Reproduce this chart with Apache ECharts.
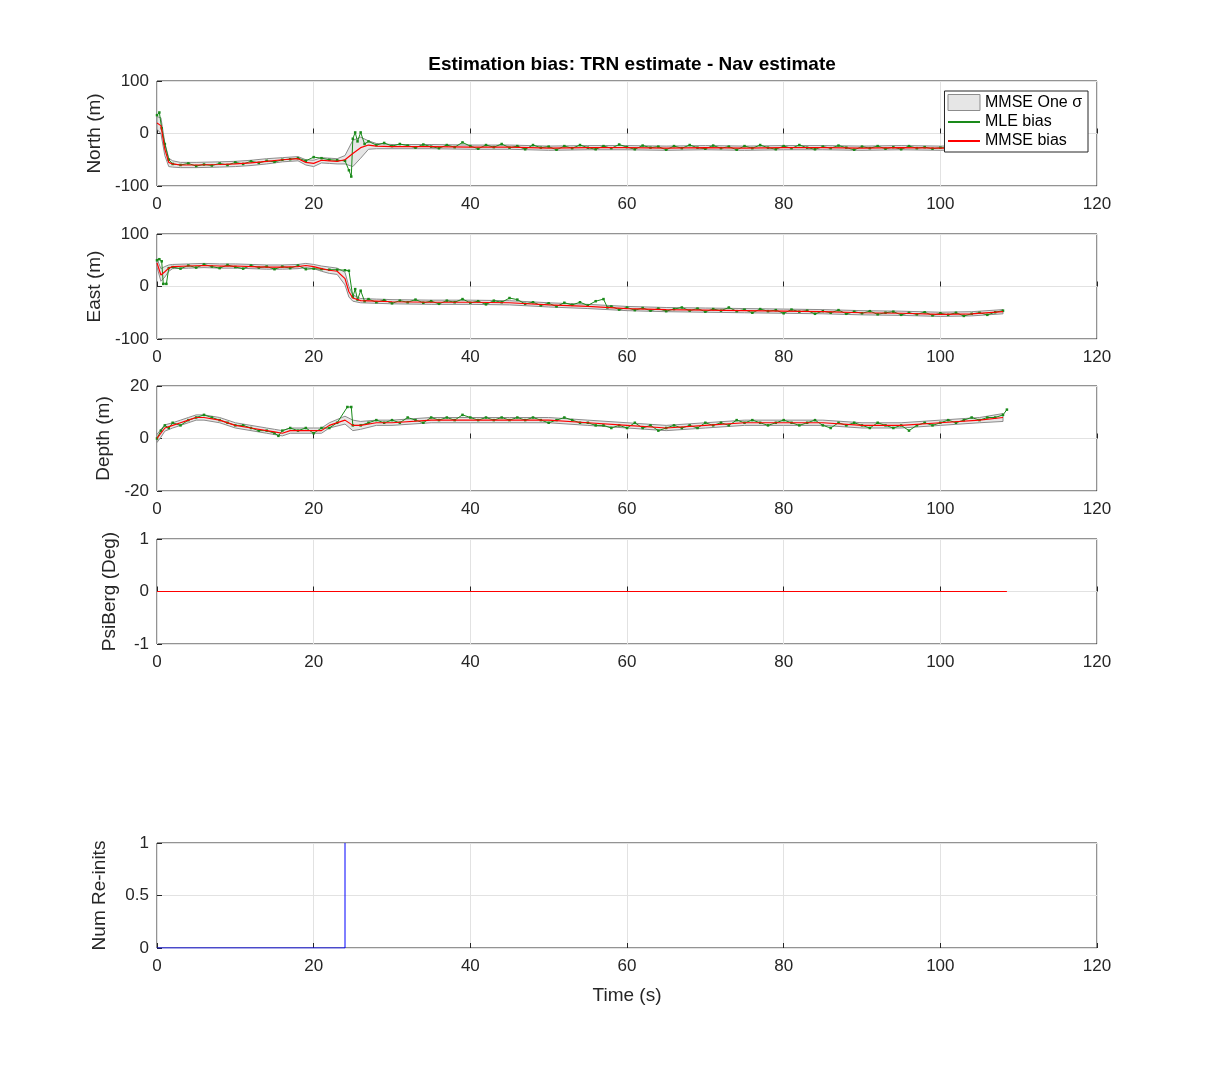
<!DOCTYPE html>
<html><head><meta charset="utf-8">
<script src="https://cdn.jsdelivr.net/npm/echarts@6/dist/echarts.min.js"></script>
<style>html,body{margin:0;background:#fff}#c{width:1213px;height:1070px}</style>
</head><body><div id="c"></div>
<script>
// ---- data ----
const xTicks=[0,20,40,60,80,100,120];
const northMMSE=[[0,20],[0.5,15],[1,-30],[1.5,-55],[2,-58],[3,-60],[5,-60],[8,-59],[10,-58],[12,-56],[14,-53],[16,-50],[18,-48],[19,-55],[20,-57],[21,-51],[22,-52],[23,-53],[24,-50],[25,-38],[26,-27],[27,-22],[28,-24],[30,-25],[35,-25],[40,-26],[45,-26],[50,-28],[55,-27],[60,-27],[65,-28],[70,-27],[75,-28],[80,-27],[85,-27],[90,-28],[95,-27],[100,-28],[105,-27],[108,-27]];
const northSigma=[12,15,12,8,6,5,5,5,5,5,5,4,4,5,6,5,5,5,8,25,20,8,5,4,4,4,4,4,4,4,4,4,4,4,4,4,4,4,4,4];
const northMLE=[[0,35],[0.3,40],[0.6,10],[1,-20],[1.5,-50],[2,-58],[3,-60],[4,-57],[5,-62],[6,-59],[7,-61],[8,-57],[9,-60],[10,-55],[11,-58],[12,-53],[13,-56],[14,-52],[15,-54],[16,-50],[17,-49],[18,-47],[19,-52],[20,-45],[21,-47],[22,-50],[23,-51],[24,-52],[24.5,-70],[24.8,-82],[25,-10],[25.3,2],[25.6,-15],[26,2],[26.5,-20],[27,-15],[28,-22],[29,-18],[30,-24],[31,-20],[32,-23],[33,-27],[34,-21],[35,-25],[36,-28],[37,-22],[38,-26],[39,-17],[40,-24],[41,-29],[42,-22],[43,-26],[44,-20],[45,-27],[46,-24],[47,-30],[48,-22],[49,-27],[50,-25],[51,-31],[52,-24],[53,-28],[54,-22],[55,-27],[56,-30],[57,-24],[58,-28],[59,-21],[60,-26],[61,-30],[62,-23],[63,-27],[64,-25],[65,-31],[66,-24],[67,-28],[68,-22],[69,-27],[70,-29],[71,-23],[72,-28],[73,-25],[74,-31],[75,-24],[76,-28],[77,-22],[78,-27],[79,-30],[80,-24],[81,-28],[82,-22],[83,-27],[84,-30],[85,-25],[86,-28],[87,-23],[88,-27],[89,-31],[90,-25],[91,-28],[92,-24],[93,-29],[94,-26],[95,-30],[96,-24],[97,-28],[98,-26],[99,-29],[100,-27],[102,-28],[104,-26],[106,-28],[108,-27]];
const eastMMSE=[[0,45],[0.5,22],[1,28],[1.5,35],[2,38],[4,39],[6,40],[8,39],[10,39],[12,38],[14,37],[16,37],[18,38],[19,40],[20,38],[21,34],[22,31],[23,29],[24,15],[24.5,-10],[25,-22],[26,-27],[28,-28],[30,-29],[35,-30],[40,-30],[45,-31],[50,-35],[55,-38],[60,-42],[65,-44],[70,-45],[75,-46],[80,-47],[85,-48],[90,-50],[95,-51],[100,-53],[104,-52],[108,-48]];
const eastSigma=[8,12,10,6,4,4,4,4,4,4,4,4,4,4,4,5,6,6,12,10,6,4,4,4,4,4,4,4,4,4,4,4,4,4,4,4,4,4,4,4];
const eastMLE=[[0,50],[0.3,52],[0.6,48],[0.8,5],[1.2,5],[1.5,35],[2,37],[3,34],[4,40],[5,36],[6,42],[7,38],[8,35],[9,41],[10,37],[11,34],[12,40],[13,36],[14,38],[15,33],[16,38],[17,35],[18,40],[19,33],[20,34],[21,33],[22,32],[23,32],[24,31],[24.5,30],[25,-20],[25.3,-5],[25.6,-25],[26,-8],[26.5,-28],[27,-24],[28,-30],[29,-26],[30,-32],[31,-27],[32,-30],[33,-25],[34,-31],[35,-28],[36,-33],[37,-27],[38,-30],[39,-24],[40,-31],[41,-28],[42,-34],[43,-27],[44,-30],[45,-22],[46,-25],[47,-33],[48,-30],[49,-36],[50,-32],[51,-38],[52,-31],[53,-35],[54,-30],[55,-36],[56,-28],[57,-24],[57.5,-40],[58,-38],[59,-44],[60,-40],[61,-45],[62,-41],[63,-46],[64,-42],[65,-47],[66,-43],[67,-40],[68,-46],[69,-42],[70,-48],[71,-43],[72,-46],[73,-40],[74,-47],[75,-44],[76,-50],[77,-43],[78,-47],[79,-45],[80,-51],[81,-44],[82,-48],[83,-46],[84,-52],[85,-47],[86,-50],[87,-45],[88,-52],[89,-48],[90,-51],[91,-47],[92,-53],[93,-50],[94,-48],[95,-54],[96,-50],[97,-53],[98,-49],[99,-55],[100,-51],[101,-54],[102,-50],[103,-56],[104,-52],[105,-50],[106,-54],[107,-49],[108,-46]];
const depthMMSE=[[0,0],[0.5,2],[1,4],[2,5],[3,6],[4,7],[5,8],[6,8],[8,7],[10,5],[12,4],[14,3],[15,2.5],[16,2],[17,3],[18,3],[20,3],[21,3],[22,5],[24,7],[25,5],[26,5],[28,6],[30,6],[35,7],[40,7],[45,7],[50,7],[55,6],[60,5],[65,4],[70,5],[75,6],[80,6],[85,6],[90,5],[95,5],[100,6],[105,7],[108,8]];
const depthSigma=[1.5,1.5,1.2,1,1,1,1,1,1,1,1,1,1,1,1,1,1,1,1,1.5,2,1.5,1,1,1,1,1,1,1,1,1,1,1,1,1,1,1,1,1,1.5];
const depthMLE=[[0,0],[0.5,3],[1,5],[1.5,4],[2,6],[3,5],[4,7],[5,8],[6,9],[7,8],[8,7],[9,6],[10,5],[11,5],[12,4],[13,3],[14,3],[15,2],[15.5,1],[16,3],[17,4],[18,3],[19,4],[20,2],[21,4],[22,4],[23,6],[24.3,12],[24.8,12],[25,5],[26,5],[27,6],[28,7],[29,6],[30,7],[31,6],[32,8],[33,7],[34,6],[35,8],[36,7],[37,8],[38,7],[39,9],[40,8],[41,7],[42,8],[43,7],[44,8],[45,7],[46,8],[47,7],[48,8],[49,7],[50,6],[51,7],[52,8],[53,7],[54,6],[55,6],[56,5],[57,5],[58,4],[59,5],[60,4],[61,6],[62,4],[63,5],[64,3],[65,4],[66,5],[67,4],[68,5],[69,4],[70,6],[71,5],[72,6],[73,5],[74,7],[75,6],[76,7],[77,6],[78,5],[79,6],[80,7],[81,6],[82,5],[83,6],[84,7],[85,5],[86,4],[87,6],[88,5],[89,6],[90,5],[91,4],[92,6],[93,5],[94,4],[95,5],[96,3],[97,5],[98,6],[99,5],[100,6],[101,7],[102,6],[103,7],[104,8],[105,7],[106,8],[107,8],[108,9],[108.5,11]];
const psiMMSE=[[0,0],[108.5,0]];
const reinits=[[0,0],[24,0],[24,1]];
// ---- chart ----
const tops=[81,234,386,539,843], H=105;
const yNames=['North (m)','East (m)','Depth (m)','PsiBerg (Deg)','Num Re-inits'];
const yRanges=[[-100,100,100],[-100,100,100],[-20,20,20],[-1,1,1],[0,1,0.5]];
const ax={color:'#262626',fontSize:17,fontFamily:'Helvetica, Arial, sans-serif'};
const grid=[],xAxis=[],yAxis=[];
tops.forEach((t,i)=>{
  grid.push({left:157,width:940,top:t,height:H,show:true,borderColor:'#262626',borderWidth:1,backgroundColor:'#fff'});
  xAxis.push({type:'value',gridIndex:i,min:0,max:120,interval:20,axisLine:{show:false},axisTick:{inside:true,length:5,lineStyle:{color:'#262626'}},axisLabel:Object.assign({margin:10},ax),splitLine:{lineStyle:{color:'#e2e2e2'}},
    name:i===4?'Time (s)':'',nameLocation:'middle',nameGap:38,nameTextStyle:{fontSize:19,color:'#262626'}});
  const r=yRanges[i];
  yAxis.push({type:'value',gridIndex:i,min:r[0],max:r[1],interval:r[2],axisLine:{show:false},axisTick:{inside:true,length:5,lineStyle:{color:'#262626'}},axisLabel:Object.assign({margin:8},ax),splitLine:{lineStyle:{color:'#e2e2e2'}},
    name:yNames[i],nameLocation:'middle',nameGap:i===2||i===3?38:48,nameTextStyle:{fontSize:19,color:'#262626'}});
});
const series=[];
function panel(i,mmse,sig,mle){
  const lo=mmse.map((p,k)=>[p[0],p[1]-sig[k]]);
  const up=mmse.map((p,k)=>[p[0],p[1]+sig[k]]);
  const poly=lo.concat(up.slice().reverse());
  series.push({type:'custom',name:'MMSE One σ',xAxisIndex:i,yAxisIndex:i,z:1,data:[0],
    renderItem:(params,api)=>({type:'polygon',shape:{points:poly.map(p=>api.coord(p))},style:{fill:'#e6e6e6',stroke:'#8c8c8c',lineWidth:1}})});
  series.push({type:'line',name:'MLE bias',xAxisIndex:i,yAxisIndex:i,data:mle,symbol:'rect',symbolSize:2.5,showSymbol:true,showAllSymbol:true,color:'#1a8a1a',itemStyle:{color:'#1a8a1a'},lineStyle:{color:'#1a8a1a',width:1},z:3});
  series.push({type:'line',name:'MMSE bias',xAxisIndex:i,yAxisIndex:i,data:mmse,symbol:'none',color:'#ff0000',lineStyle:{color:'#ff0000',width:1.2},itemStyle:{color:'#ff0000'},z:4});
}
panel(0,northMMSE,northSigma,northMLE);
panel(1,eastMMSE,eastSigma,eastMLE);
panel(2,depthMMSE,depthSigma,depthMLE);
series.push({type:'line',xAxisIndex:3,yAxisIndex:3,data:psiMMSE,symbol:'none',color:'#ff0000',z:5,lineStyle:{color:'#ff0000',width:1.2},itemStyle:{color:'#ff0000'}});
series.push({type:'line',xAxisIndex:4,yAxisIndex:4,data:reinits,symbol:'none',color:'#0000ff',z:5,lineStyle:{color:'#0000ff',width:1},itemStyle:{color:'#0000ff'}});
const chart=echarts.init(document.getElementById('c'));
chart.setOption({animation:false,backgroundColor:'#fff',
  title:{text:'Estimation bias: TRN estimate - Nav estimate',left:627,textAlign:'center',top:50,textStyle:{fontSize:19,fontWeight:'bold',color:'#000',fontFamily:'Helvetica, Arial, sans-serif'}},
  legend:{orient:'vertical',right:125,top:91,backgroundColor:'#fff',borderColor:'#262626',borderWidth:1,borderRadius:0,padding:[3,6,3,3],itemGap:3,itemWidth:32,itemHeight:16,
    textStyle:{fontSize:16,color:'#000',fontFamily:'Helvetica, Arial, sans-serif'},z:20,
    data:[{name:'MMSE One σ',icon:'rect',itemStyle:{color:'#e6e6e6',borderColor:'#8c8c8c',borderWidth:1}},{name:'MLE bias',icon:'path://M0,7H30V9H0Z'},{name:'MMSE bias',icon:'path://M0,7H30V9H0Z'}]},
  grid,xAxis,yAxis,series});
</script></body></html>
